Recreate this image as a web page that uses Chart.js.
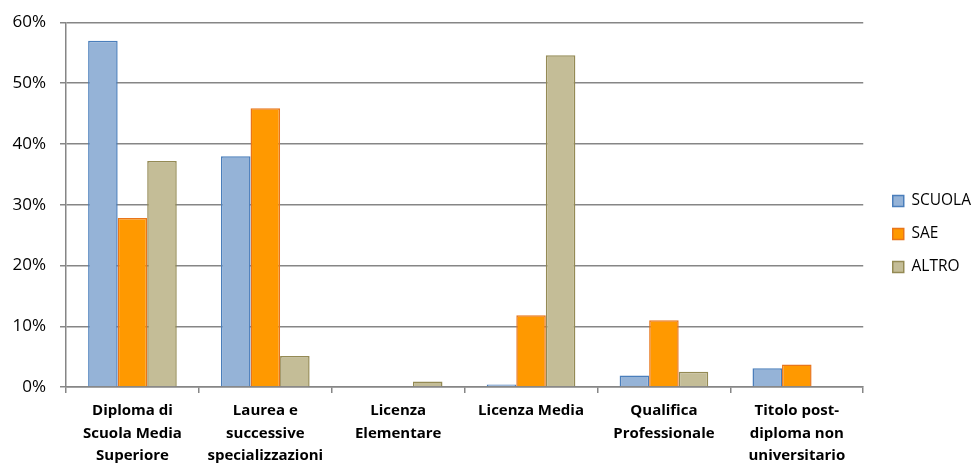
<!DOCTYPE html>
<html>
<head>
<meta charset="utf-8">
<script src="https://cdn.jsdelivr.net/npm/chart.js@4.4.0/dist/chart.umd.min.js"></script>
<style>
html,body{margin:0;padding:0;background:#fff;}
#wrap{width:971px;height:466px;position:relative;}
</style>
</head>
<body>
<div id="wrap"><canvas id="c"></canvas></div>
<script>
const categories = [
  ["Diploma di", "Scuola Media", "Superiore"],
  ["Laurea e", "successive", "specializzazioni"],
  ["Licenza", "Elementare"],
  ["Licenza Media"],
  ["Qualifica", "Professionale"],
  ["Titolo post-", "diploma non", "universitario"]
];
const seriesNames = ["SCUOLA", "SAE", "ALTRO"];
const scuola = [57.0, 38.0, 0, 0.4, 1.9, 3.1];
const sae = [27.8, 45.9, 0, 11.8, 11.0, 3.7];
const altro = [37.2, 5.1, 0.9, 54.6, 2.5, 0];
const yTicks = [0, 10, 20, 30, 40, 50, 60];

const fills = ["#95B3D7", "#FF9900", "#C4BD97"];
const borders = ["#4A7EBB", "#E8751A", "#948A54"];
const values = [scuola, sae, altro];

new Chart(document.getElementById('c'), {
  type: 'bar',
  data: {
    labels: categories,
    datasets: seriesNames.map((n, i) => ({
      label: n,
      data: values[i],
      backgroundColor: fills[i],
      borderColor: borders[i],
      borderWidth: 1.5,
      categoryPercentage: 0.667,
      barPercentage: 1.0,
      yAxisID: 'y'
    }))
  },
  options: {
    responsive: true,
    maintainAspectRatio: false,
    animation: false,
    layout: { padding: { left: 0, top: 2, right: -10, bottom: 0 } },
    plugins: {
      tooltip: { enabled: false },
      legend: {
        position: 'right',
        labels: {
          boxWidth: 11, boxHeight: 11,
          padding: 17.5,
          color: '#000',
          font: { family: 'Open Sans', size: 15.5 }
        }
      }
    },
    scales: {
      x: {
        grid: { drawOnChartArea: false, drawTicks: true, tickLength: 6, color: '#868686', lineWidth: 1.5, offset: true },
        border: { color: '#868686', width: 1.5 },
        ticks: { color: '#000', font: { family: 'Open Sans', size: 15, weight: 'bold', lineHeight: 1.5 }, padding: 6.75, maxRotation: 0, autoSkip: false },
        afterFit: (s) => { s.height = 79; }
      },
      topgap: {
        type: 'category',
        position: 'top',
        display: true,
        grid: { display: false, drawTicks: false },
        border: { display: false },
        ticks: { display: false },
        afterFit: (s) => { s.height = 6; }
      },
      y: {
        min: 0, max: 60,
        afterBuildTicks: (s) => { s.ticks = yTicks.map(v => ({ value: v })); },
        grid: { color: '#868686', lineWidth: 1.5, tickLength: 6 },
        border: { color: '#868686', width: 1.5 },
        ticks: { color: '#000', font: { family: 'Open Sans', size: 17, lineHeight: 1 }, padding: 14, callback: (v) => v + '%' },
        afterFit: (s) => { s.width = 66; }
      },
      gap: {
        position: 'right',
        display: true,
        grid: { display: false, drawTicks: false },
        border: { display: false },
        ticks: { display: false },
        afterFit: (s) => { s.width = 12; }
      }
    }
  }
});
</script>
</body>
</html>
